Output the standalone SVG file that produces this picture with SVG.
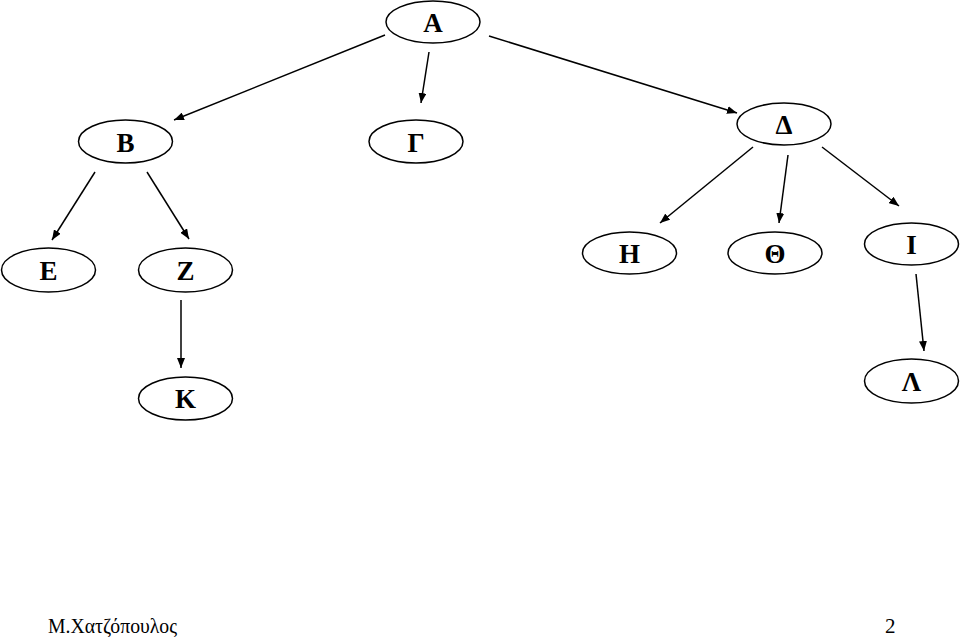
<svg xmlns="http://www.w3.org/2000/svg" width="960" height="637" viewBox="0 0 960 637">
<style>
.n ellipse{fill:#fff;stroke:#000;stroke-width:1.5}
.n text{font-family:"Liberation Serif","Times New Roman",serif;font-weight:bold;font-size:27px;text-anchor:middle;fill:#000}
.c line{stroke:#000;stroke-width:1.5;marker-end:url(#ah)}
.f{font-family:"Liberation Serif","Times New Roman",serif;font-size:21px;fill:#000}
</style>
<defs>
<marker id="ah" viewBox="0 0 10 8" refX="10" refY="4" markerWidth="10" markerHeight="8" markerUnits="userSpaceOnUse" orient="auto">
<path d="M0,0 L10,4 L0,8 Z" fill="#000"/>
</marker>
</defs>
<rect width="960" height="637" fill="#fff"/>
<g class="c" id="connectors">
<line x1="385" y1="35" x2="174" y2="120"/>
<line x1="429" y1="52" x2="421" y2="103"/>
<line x1="489" y1="36" x2="737" y2="113"/>
<line x1="95" y1="172" x2="52" y2="240"/>
<line x1="147" y1="172" x2="189" y2="239"/>
<line x1="181" y1="300" x2="181" y2="368"/>
<line x1="753" y1="147" x2="660" y2="223"/>
<line x1="788" y1="155" x2="779" y2="223"/>
<line x1="822" y1="147" x2="899" y2="206"/>
<line x1="916" y1="274" x2="924" y2="351"/>
</g>
<g class="n" id="A"><ellipse cx="433" cy="22" rx="47" ry="21"/><text x="433" y="32">Α</text></g>
<g class="n" id="B"><ellipse cx="125.5" cy="141.5" rx="47" ry="21.5"/><text x="125.5" y="152">Β</text></g>
<g class="n" id="G"><ellipse cx="416" cy="141.5" rx="47" ry="21.5"/><text x="416" y="152">Γ</text></g>
<g class="n" id="D"><ellipse cx="784" cy="124" rx="47" ry="21"/><text x="784" y="134">Δ</text></g>
<g class="n" id="E"><ellipse cx="48.5" cy="270" rx="47" ry="22"/><text x="48.5" y="280">Ε</text></g>
<g class="n" id="Z"><ellipse cx="185.5" cy="270" rx="47" ry="22"/><text x="185.5" y="280">Ζ</text></g>
<g class="n" id="H"><ellipse cx="629.5" cy="253" rx="47" ry="21"/><text x="629.5" y="263">Η</text></g>
<g class="n" id="TH"><ellipse cx="775" cy="253" rx="47" ry="21"/><text x="775" y="263">Θ</text></g>
<g class="n" id="I"><ellipse cx="911.5" cy="244" rx="47" ry="21"/><text x="911.5" y="254">Ι</text></g>
<g class="n" id="K"><ellipse cx="185.5" cy="398.5" rx="47" ry="21.5"/><text x="185.5" y="408">Κ</text></g>
<g class="n" id="L"><ellipse cx="911.5" cy="381" rx="47" ry="22"/><text x="911.5" y="391">Λ</text></g>
<text class="f" x="48" y="633" textLength="129" lengthAdjust="spacingAndGlyphs">Μ.Χατζόπουλος</text>
<text class="f" x="885" y="633">2</text>
</svg>
